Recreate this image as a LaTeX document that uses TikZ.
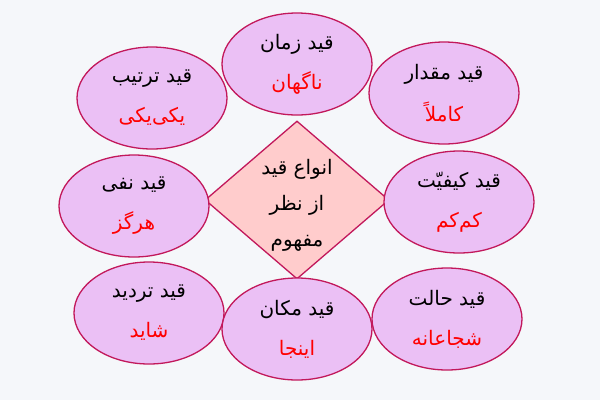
\documentclass[tikz,border=0pt]{standalone}
\usepackage{fontspec}
\newfontfamily\arabicfont[Script=Arabic]{DejaVu Sans}
\TeXXeTstate=1
\usetikzlibrary{shapes.geometric}
\definecolor{bg}{HTML}{F5F7FA}
\definecolor{ellfill}{HTML}{EBC0F5}
\definecolor{edgec}{HTML}{C2185B}
\definecolor{diafill}{HTML}{FFCCCC}
\definecolor{exc}{HTML}{FF0000}
\tikzset{
  qnode/.style={ellipse, draw=edgec, fill=ellfill, line width=1.3pt,
    minimum width=150pt, minimum height=102pt, inner sep=0pt, align=center,
    font=\arabicfont\fontsize{20}{24}\selectfont},
  dnode/.style={diamond, draw=edgec, fill=diafill, line width=1.3pt,
    minimum width=184pt, minimum height=158pt, inner sep=0pt},
  dtext/.style={align=center, font=\arabicfont\fontsize{20}{36}\selectfont}
}
\newcommand\qtext[2]{\beginR #1\endR\\[16pt]\textcolor{exc}{\beginR #2\endR}}
\begin{document}
\begin{tikzpicture}[x=1pt,y=-1pt]
\fill[bg] (0,0) rectangle (600,400);
\useasboundingbox (0,0) rectangle (600,400);
\node[dnode] (d) at (297,200) {};
\node[dtext] (dt) at (297,205) {\beginR انواع قید\endR\\\beginR از نظر\endR\\\beginR مفهوم\endR};
\node[qnode] (zaman) at (297,64) {\qtext{قید زمان}{ناگهان}};
\node[qnode] (tartib) at (152,98) {\qtext{قید ترتیب}{یکی‌یکی}};
\node[qnode] (meghdar) at (444,93) {\qtext{قید مقدار}{کاملاً}};
\node[qnode] (nafy) at (134,206) {\qtext{قید نفی}{هرگز}};
\node[qnode] (keyfiyat) at (459,202) {\qtext{قید کیفیّت}{کم‌کم}};
\node[qnode] (tardid) at (149,313) {\qtext{قید تردید}{شاید}};
\node[qnode] (makan) at (297,329) {\qtext{قید مکان}{اینجا}};
\node[qnode] (halat) at (447,319) {\qtext{قید حالت}{شجاعانه}};
\end{tikzpicture}
\end{document}
